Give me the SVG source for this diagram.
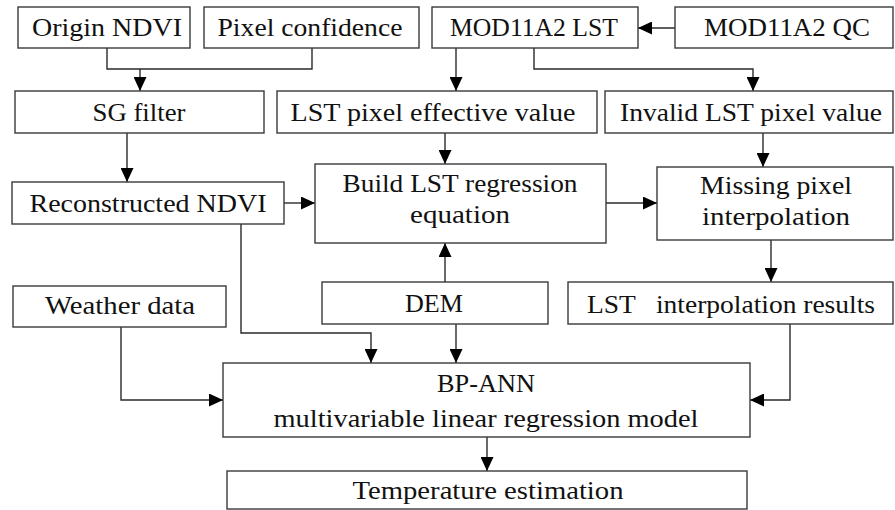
<svg xmlns="http://www.w3.org/2000/svg" width="895" height="510" viewBox="0 0 895 510">
<style>
rect.box{fill:#fff;stroke:#3a3a3a;stroke-width:1.4}
text{font-family:"Liberation Serif","Times New Roman",serif;font-size:25px;fill:#111;text-anchor:middle}
.edge{fill:none;stroke:#2a2a2a;stroke-width:1.4}
</style>
<defs>
<marker id="ah" markerUnits="userSpaceOnUse" markerWidth="14" markerHeight="13" refX="14" refY="6.5" orient="auto" viewBox="0 0 14 13">
<path d="M0,0 L14,6.5 L0,13 z" fill="#000"/>
</marker>
</defs>
<rect width="895" height="510" fill="#fff"/>
<g id="edges">
<path class="edge" d="M107,48 V69 H312 V48"/>
<path class="edge" d="M140,69 V91" marker-end="url(#ah)"/>
<path class="edge" d="M127,133 V182" marker-end="url(#ah)"/>
<path class="edge" d="M284,203 H315" marker-end="url(#ah)"/>
<path class="edge" d="M456,48 V91" marker-end="url(#ah)"/>
<path class="edge" d="M534,48 V69 H753 V91" marker-end="url(#ah)"/>
<path class="edge" d="M675,28 H638" marker-end="url(#ah)"/>
<path class="edge" d="M445,133 V164" marker-end="url(#ah)"/>
<path class="edge" d="M763,133 V167" marker-end="url(#ah)"/>
<path class="edge" d="M606,203 H657" marker-end="url(#ah)"/>
<path class="edge" d="M771,240 V282" marker-end="url(#ah)"/>
<path class="edge" d="M445,282 V243" marker-end="url(#ah)"/>
<path class="edge" d="M456,324 V363" marker-end="url(#ah)"/>
<path class="edge" d="M241,224 V333 H371 V363" marker-end="url(#ah)"/>
<path class="edge" d="M121,327 V400 H223" marker-end="url(#ah)"/>
<path class="edge" d="M790,324 V400 H750" marker-end="url(#ah)"/>
<path class="edge" d="M487,437 V471" marker-end="url(#ah)"/>
</g>
<g id="origin-ndvi"><rect class="box" x="18" y="7" width="172" height="41"/><text x="107" y="36" textLength="150" lengthAdjust="spacingAndGlyphs">Origin NDVI</text></g>
<g id="pixel-confidence"><rect class="box" x="204" y="7" width="215" height="41"/><text x="310" y="36" textLength="185" lengthAdjust="spacingAndGlyphs">Pixel confidence</text></g>
<g id="mod-lst"><rect class="box" x="432" y="7" width="206" height="41"/><text x="534" y="36" textLength="168" lengthAdjust="spacingAndGlyphs">MOD11A2 LST</text></g>
<g id="mod-qc"><rect class="box" x="675" y="7" width="218" height="41"/><text x="787" y="36" textLength="166" lengthAdjust="spacingAndGlyphs">MOD11A2 QC</text></g>
<g id="sg-filter"><rect class="box" x="15" y="91" width="249" height="42"/><text x="139" y="121" textLength="93" lengthAdjust="spacingAndGlyphs">SG filter</text></g>
<g id="lst-effective"><rect class="box" x="277" y="91" width="320" height="42"/><text x="433" y="121" textLength="285" lengthAdjust="spacingAndGlyphs">LST pixel effective value</text></g>
<g id="invalid-lst"><rect class="box" x="605" y="91" width="288" height="42"/><text x="751" y="121" textLength="262" lengthAdjust="spacingAndGlyphs">Invalid LST pixel value</text></g>
<g id="reconstructed-ndvi"><rect class="box" x="12" y="182" width="272" height="42"/><text x="148" y="212" textLength="237" lengthAdjust="spacingAndGlyphs">Reconstructed NDVI</text></g>
<g id="build-lst"><rect class="box" x="315" y="164" width="291" height="79"/><text x="460" y="192" textLength="235" lengthAdjust="spacingAndGlyphs">Build LST regression</text><text x="460" y="223" textLength="100" lengthAdjust="spacingAndGlyphs">equation</text></g>
<g id="missing-pixel"><rect class="box" x="657" y="167" width="236" height="73"/><text x="776" y="194" textLength="152" lengthAdjust="spacingAndGlyphs">Missing pixel</text><text x="776" y="225" textLength="148" lengthAdjust="spacingAndGlyphs">interpolation</text></g>
<g id="weather"><rect class="box" x="13" y="286" width="213" height="41"/><text x="120" y="314" textLength="150" lengthAdjust="spacingAndGlyphs">Weather data</text></g>
<g id="dem"><rect class="box" x="322" y="282" width="226" height="42"/><text x="434" y="312" textLength="58" lengthAdjust="spacingAndGlyphs">DEM</text></g>
<g id="lst-interp"><rect class="box" x="568" y="282" width="325" height="42"/><text x="731" y="313" textLength="288" lengthAdjust="spacingAndGlyphs" xml:space="preserve">LST   interpolation results</text></g>
<g id="bp-ann"><rect class="box" x="223" y="363" width="527" height="74"/><text x="486" y="392" textLength="98" lengthAdjust="spacingAndGlyphs">BP-ANN</text><text x="486" y="427" textLength="425" lengthAdjust="spacingAndGlyphs">multivariable linear regression model</text></g>
<g id="temperature"><rect class="box" x="227" y="471" width="520" height="38"/><text x="488" y="499" textLength="271" lengthAdjust="spacingAndGlyphs">Temperature estimation</text></g>
</svg>
